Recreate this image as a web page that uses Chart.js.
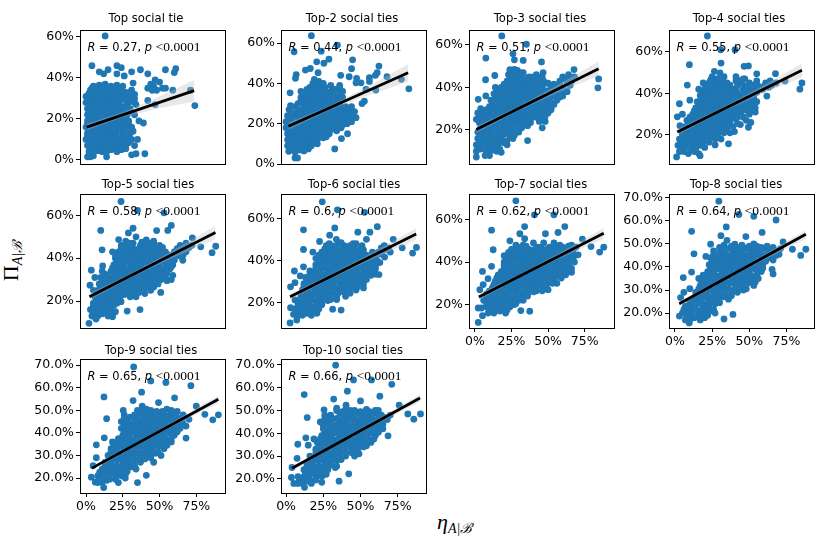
<!DOCTYPE html>
<html>
<head>
<meta charset="utf-8">
<script src="https://cdn.jsdelivr.net/npm/chart.js@4"></script>
<style>
  html, body { margin: 0; padding: 0; background: #fff; }
  #page { position: relative; width: 822px; height: 544px; overflow: hidden; }
  #page canvas { position: absolute; }
  .axis-name { position: absolute; font-family: "Liberation Serif", serif; font-size: 22px; color: #000; white-space: nowrap; }
  .axis-name sub { font-size: 14px; font-style: italic; vertical-align: -4px; }
</style>
</head>
<body>
<div id="page">
  <div class="axis-name" style="left:437px;top:509px"><i>η</i><sub>A|ℬ</sub></div>
  <div class="axis-name" style="left:12px;top:261px;transform:translate(-50%,-50%) rotate(-90deg)">Π<sub>A|ℬ</sub></div>
</div>
<script>
var titles = ['Top social tie','Top-2 social ties','Top-3 social ties','Top-4 social ties','Top-5 social ties',
  'Top-6 social ties','Top-7 social ties','Top-8 social ties','Top-9 social ties','Top-10 social ties'];
var rValues = ['0.27','0.44','0.51','0.55','0.58','0.6','0.62','0.64','0.65','0.66'];

var yTicks1 = [0,20,40,60];
var yTicks2 = [0,20,40,60];
var yTicks3 = [20,40,60];
var yTicks8 = [20,30,40,50,60,70];
var xTicks = [0,25,50,75];

var pts1 = [[13,60.5],[4,46],[9,43],[12,42],[15,44],[21,46],[24,45],[21,42],[26,41],[31,43],[37,44],[42,42],[54,44],[61,44.5],[60,42.6],[32,37.5],[30,33],[33,32],[47,39],[44,37],[50,38],[46,36],[42,35],[52,35],[48,34],[54,35],[45,34],[59,34],[71,34],[74,26.5],[47,27],[42,29],[34,27],[36,19],[39,18],[32,14],[35,10],[33,7],[31,2.5],[34,3],[40,3],[26,7],
[1,1.5],[3,1.5],[5,2],[14,1.5],[2,4],[5,4],[8,4.5],[11,4],[14,4],[17,5],[21,4],[24,5],
[1,7],[4,7],[8,7.5],[12,7],[16,7],[20,8],[24,7],[28,8],[31,10],
[0,10],[3,10],[7,10.5],[11,10],[15,10],[19,11],[23,10],[27,10],
[1,13],[5,13],[9,13.5],[13,13],[17,13],[21,14],[25,13],[30,13],
[0,16],[3,16],[7,16],[11,16.5],[15,16],[19,16],[23,17],[27,16],[31,16],
[1,19],[5,19],[9,19.5],[13,19],[17,19],[21,20],[25,19],[29,19],
[1,22],[4,22],[8,22.5],[12,22],[16,22],[20,23],[24,22],[28,22],[33,22],
[1,25],[5,25],[9,25.5],[13,25],[17,25],[21,26],[25,25],[30,25],
[0,28],[3,28],[7,28],[11,28.5],[15,28],[19,28],[23,29],[29,28],[33,28],
[0,31],[4,31],[8,31.5],[12,31],[16,31],[20,32],[24,31],[28,31],[33,30],
[3,34],[7,34],[11,34.5],[15,34],[19,34],[23,35],[27,33],[31,34],
[5,36],[9,36.5],[13,37],[17,36],[21,36.5],[25,36],
[3,5.5],[6,6],[10,5.5],[13,5.5],[17,6],[20,5.5],[23,6],[27,5.5],
[2,8.5],[6,9],[10,8.5],[14,8.5],[18,9],[22,8.5],[26,9],[29,8.5],
[1,11.5],[5,12],[9,11.5],[13,11.5],[17,12],[21,11.5],[25,11.5],[29,11.5],
[3,14.5],[7,14.5],[11,15],[15,14.5],[19,14.5],[23,15],[27,14.5],
[1,17.5],[5,17.5],[9,18],[13,17.5],[17,17.5],[21,18],[25,17.5],[29,17.5],
[3,20.5],[7,20.5],[11,21],[15,20.5],[19,20.5],[23,21],[27,20.5],
[2,23.5],[6,24],[10,23.5],[14,23.5],[18,24],[22,23.5],[26,23.5],[30,23.5],
[3,26.5],[7,27],[11,26.5],[15,26.5],[19,27],[23,26.5],[27,26.5],
[1,29.5],[5,30],[9,29.5],[13,29.5],[17,30],[21,29.5],[26,29.5],[31,29.5],
[2,32.5],[6,33],[10,32.5],[14,32.5],[18,33],[22,32.5],[26,32.5],[30,32.5],
[4,35],[8,35.5],[12,35],[16,35],[20,35.5],[24,35]];

var pts2 = [[17,63.7],[34.5,59],[5.4,55.7],[23.6,56],[20.6,50.7],[25.4,50],[28.8,52],[44.7,51.7],[44,47.3],[13,46.6],[16.3,47.4],[6.8,44.4],[6.3,42.5],[21.5,45.3],[36.7,44],[42.4,43.3],[47.4,42.5],[62.4,48.6],[61.2,45.3],[56,42.8],[67.8,43.3],[77.5,42],[82.5,37.3],[60.3,36.7],[52.6,31.2],[51,30],[53.7,37],[47,40.3],[50.3,40.3],[32.7,7.5],[37.2,12.6],[41.3,15],[6,3],[7.7,3],[1.8,6.3],[15,7.5],[2.7,35.3],[60,44],[56,41],
[3,7],[6,6],[9,7],[12,6.5],
[1,9],[5,10],[9,9],[13,10],[17,9],[21,10],
[1,12],[5,12.5],[9,12],[13,13],[17,12],[21,12],[25,13],
[1,15],[5,15],[9,15.5],[13,15],[17,15],[21,16],[25,15],[29,15],
[0,18],[4,18],[8,18.5],[12,18],[16,18],[20,18],[24,19],[28,18],[32,18],[37,18],
[0,21],[4,21],[10,21],[14,21.5],[18,21],[22,21],[26,22],[30,21],[34,21],[38,21],[44,21],
[1,24],[6,24],[11,24],[15,24.5],[19,24],[23,24],[27,25],[31,24],[35,24],[39,24],[43,24],[47,23],
[2,27],[10,27],[14,27],[18,27.5],[22,27],[26,27],[30,28],[34,27],[38,27],[42,27],[46,26],
[3,29],[8,30],[12,30],[16,30.5],[20,30],[24,30],[28,31],[32,30],[36,30],
[10,33],[14,33],[18,33.5],[22,33],[26,33],[30,34],[34,33],[38,33],
[10,36],[14,35],[18,36],[22,36.5],[26,36],[30,36],[34,37],[38,36],
[16,38],[20,39],[24,38],[30,39],[36,39],
[19,42],[22,41],[25,40],
[4,7.5],[8,8],[11,7.5],
[3,10.5],[7,11],[11,10.5],[15,11],[19,10.5],
[3,13.5],[7,14],[11,13.5],[15,13.5],[19,14],[23,13.5],[27,13.5],
[2,16.5],[6,17],[10,16.5],[14,16.5],[18,17],[22,16.5],[26,16.5],[30,17],[34,16.5],
[2,19.5],[6,20],[10,19.5],[14,19.5],[18,20],[22,19.5],[26,19.5],[30,20],[34,19.5],[38,19.5],[41,20],
[3,22.5],[8,23],[12,22.5],[16,22.5],[20,23],[24,22.5],[28,22.5],[32,23],[36,22.5],[40,22.5],[45,23],
[4,25.5],[8,26],[13,25.5],[17,25.5],[21,26],[25,25.5],[29,25.5],[33,26],[37,25.5],[41,25.5],[45,25],
[6,28.5],[12,29],[16,28.5],[20,28.5],[24,29],[28,28.5],[32,28.5],[36,29],[40,28.5],[44,28.5],
[10,31.5],[14,32],[18,31.5],[22,31.5],[26,32],[30,31.5],[34,31.5],[37,32],
[12,34.5],[16,35],[20,34.5],[24,34.5],[28,35],[32,34.5],[36,34.5],
[14,37],[18,37.5],[22,37],[26,38],[32,37],[36,38],
[18,40],[22,39.5]];

var pts3 = [[18.4,64.2],[35.2,60.3],[26,55.8],[7.5,53.8],[27,53],[33,52.7],[45.5,52],[13.6,45.6],[7.3,43.6],[24,48.4],[67.7,48.4],[84.5,44],[84,39.8],[46.6,47],[2.3,34.4],[7.5,36],[46,21],[36,15],[1,7.3],[56,34],[60,36],[52,30],[48,24],
[7,8],[10,8],[18,9.5],
[1,10],[4,11],[8,10],[12,10.5],[15,10],[17,11],
[1,13],[4,13],[8,14],[12,13],[16,13],[20,14],[22,13],
[2,16],[6,16],[10,17],[14,16],[18,16],[22,15],[26,16],
[2,19],[6,19],[10,19],[14,20],[18,19],[22,19],[26,20],[30,19],
[4,22],[8,22],[12,22],[16,23],[20,22],[24,22],[28,23],[32,22],[36,22],
[1,25],[5,25],[9,25],[13,26],[17,25],[21,25],[25,26],[29,25],[33,25],[37,25],[41,26],[46,25],
[2,28],[6,28],[10,28],[14,29],[18,28],[22,28],[26,29],[30,28],[34,28],[38,28],[42,29],[46,28],[50,28],
[4,30],[10,31],[14,31],[18,32],[22,31],[26,31],[30,32],[34,31],[38,31],[42,32],[46,31],[50,31],[54,32],
[11,34],[15,34],[19,34],[23,35],[27,34],[31,34],[35,35],[39,34],[43,34],[47,35],[51,34],
[13,37],[17,37],[21,37],[25,38],[29,37],[33,37],[37,38],[41,37],[45,37],[52,37],[56,38],[60,37],[63,38],
[14,40],[18,40],[22,40],[26,41],[30,40],[34,40],[38,41],[42,40],[46,40],[52,41],[56,40],[60,40],[65,41],
[22,43],[26,43],[30,44],[34,43],[38,43],[42,44],[47,43],[50,42],[58,43],[62,44],[66,43],
[23,46],[27,46],[31,47],[37,45],[42,46],[46,45],[60,45],[64,46],[68,45],
[24,48],[27,48.5],[29,48],[33,47],
[2,11.5],[6,12],[10,11.5],[14,11.5],
[3,14.5],[6,15],[10,14.5],[14,14.5],[18,15],[21,14.5],
[4,17.5],[8,18],[12,17.5],[16,17.5],[20,18],[24,17.5],[27,17.5],
[4,20.5],[8,21],[12,20.5],[16,20.5],[20,21],[24,20.5],[28,20.5],[32,21],
[3,23.5],[6,24],[10,23.5],[14,23.5],[18,24],[22,23.5],[26,23.5],[30,24],[34,23.5],[38,23.5],[44,24],
[3,26.5],[7,27],[11,26.5],[15,26.5],[19,27],[23,26.5],[27,26.5],[31,27],[35,26.5],[39,26.5],[43,27],[48,26.5],
[8,29.5],[12,30],[16,29.5],[20,29.5],[24,30],[28,29.5],[32,29.5],[36,30],[40,29.5],[44,29.5],[48,30],[52,29.5],
[12,32.5],[16,33],[20,32.5],[24,32.5],[28,33],[32,32.5],[36,32.5],[40,33],[44,32.5],[48,32.5],[52,33],
[14,35.5],[18,36],[22,35.5],[26,35.5],[30,36],[34,35.5],[38,35.5],[42,36],[46,35.5],[50,35.5],[54,36],[58,35.5],
[15,38.5],[19,39],[23,38.5],[27,38.5],[31,39],[35,38.5],[39,38.5],[43,39],[47,38.5],[50,38.5],[54,39],[58,38.5],[62,38.5],
[20,41.5],[24,42],[28,41.5],[32,41.5],[36,42],[40,41.5],[44,41.5],[48,42],[54,41.5],[58,41.5],[63,42],
[24,44.5],[28,45],[32,44.5],[36,44.5],[40,45],[44,44.5],[60,44],[64,44.5]];

var pts4 = [[21.8,67.6],[30.8,61],[40.4,61],[9.7,53.8],[31,54.6],[46.5,53],[49.4,53.2],[26.5,50.6],[30.3,49.8],[55,49.4],[67.6,49.5],[74,45.9],[85.4,45],[84,42],[61.8,38.7],[8.3,44],[3,35],[10,36.7],[1.6,28.7],[3.4,24.4],[1.1,9.4],[16.9,10],[27,15.2],[36,15.7],[49.4,23.7],[40,21.6],[64,46],[59,42],
[3,12],[6,12],[9,11],[13,12],[16,11],
[2,15],[5,15],[9,16],[13,15],[17,15],[20,14],
[3,18],[7,18],[11,19],[15,18],[19,18],[23,19],[27,18],[31,18],
[5,21],[9,21],[13,22],[17,21],[21,21],[25,22],[29,21],[33,21],[37,21],
[7,24],[11,24],[15,25],[19,24],[23,24],[27,25],[31,24],[35,24],[39,24],[44,25],
[8,27],[12,27],[16,28],[20,27],[24,27],[28,28],[32,27],[36,27],[40,28],[48,27],[51,26],
[5,30],[12,30],[16,30],[20,31],[24,30],[28,30],[32,31],[36,30],[40,30],[44,31],[50,30],[54,31],
[14,33],[18,33],[22,34],[26,33],[30,33],[34,34],[38,33],[42,33],[46,34],[50,33],[54,33],
[15,36],[19,36],[23,37],[27,36],[31,36],[35,37],[39,36],[43,36],[47,37],[51,36],[55,36],
[17,39],[21,39],[25,40],[29,39],[33,39],[37,40],[41,39],[45,39],[49,40],[53,39],
[16,42],[20,42],[24,43],[28,42],[32,42],[36,43],[40,42],[46,42],[50,43],[54,42],[58,42],[63,43],
[19,45],[23,45],[27,46],[31,45],[35,45],[41,46],[45,45],[50,45],[55,46],[61,45],[65,44],[68,45],
[25,48],[29,47],[33,48],[41,48],[47,47],
[4,13.5],[7,14],[11,13.5],[14,13.5],
[4,16.5],[7,17],[11,16.5],[15,16.5],[19,17],[23,16.5],
[5,19.5],[9,20],[13,19.5],[17,19.5],[21,20],[25,19.5],[29,19.5],
[7,22.5],[11,23],[15,22.5],[19,22.5],[23,23],[27,22.5],[31,22.5],[35,23],
[9,25.5],[13,26],[17,25.5],[21,25.5],[25,26],[29,25.5],[33,25.5],[37,26],[42,25.5],
[10,28.5],[14,29],[18,28.5],[22,28.5],[26,29],[30,28.5],[34,28.5],[38,29],[42,28.5],[46,28.5],
[13,31.5],[17,32],[21,31.5],[25,31.5],[29,32],[33,31.5],[37,31.5],[41,32],[45,31.5],[49,31.5],[53,32],
[16,34.5],[20,35],[24,34.5],[28,34.5],[32,35],[36,34.5],[40,34.5],[44,35],[48,34.5],[52,34.5],
[18,37.5],[22,38],[26,37.5],[30,37.5],[34,38],[38,37.5],[42,37.5],[46,38],[50,37.5],[53,37.5],
[18,40.5],[22,41],[26,40.5],[30,40.5],[34,41],[38,40.5],[42,40.5],[47,41],[51,40.5],[55,40.5],
[21,43.5],[25,44],[29,43.5],[33,43.5],[37,44],[42,43.5],[48,43.5],[52,44],[56,43.5],[60,43.5],[65,44],
[24,46.5],[28,47],[32,46.5],[42,46.5],[46,47]];

var pts5 = [[23.8,66.5],[35,62.3],[53,61.2],[10,53],[32,54],[28.8,51.8],[48,52.9],[58,55.3],[55.6,53],[22.2,48.7],[34,50],[72.3,49.5],[10.9,43.9],[78,45.3],[88.2,45.6],[85.7,42.6],[11.3,36.4],[3.6,34.4],[2.7,27.4],[5,25],[59,32],[65.8,39],[50.8,24],[28,15.3],[36.7,16],[2,9.6],[23.8,19.7],[18,12.7],[6.8,11.6],
[4,13],[8,13],[11,14],[15,13],[18,14],
[3,16],[6,16],[9,17],[13,16],[17,16],[20,15],
[5,19],[9,19],[13,20],[17,19],[21,19],
[6,22],[10,22],[14,23],[18,22],[22,22],[26,23],[30,22],[34,22],
[8,25],[12,25],[16,26],[20,25],[24,25],[28,26],[32,25],[36,25],[40,26],[44,25],
[9,28],[13,28],[17,29],[21,28],[25,28],[29,29],[33,28],[37,28],[41,29],[45,28],[49,28],
[6,31],[10,31],[14,32],[18,31],[22,31],[26,32],[30,31],[34,31],[38,32],[42,31],[46,31],[50,32],[54,31],[58,30],
[11,34],[17,34],[21,35],[25,34],[29,34],[33,35],[37,34],[41,34],[45,35],[49,34],[53,34],[57,35],
[19,37],[23,37],[27,38],[31,37],[35,37],[39,38],[43,37],[47,37],[51,38],[55,37],[59,37],
[20,40],[24,40],[28,41],[32,40],[36,40],[40,41],[44,40],[48,40],[52,41],[56,40],[60,40],[64,41],
[18,43],[22,43],[26,44],[30,43],[34,43],[38,44],[42,43],[46,43],[50,44],[54,43],[60,43],[64,44],[68,43],
[24,46],[28,46],[32,47],[37,46],[42,46],[46,47],[50,46],[64,46],[68,47],[72,46],
[27,48],[41,48.5],[46,48],
[5,14.5],[9,15],[13,14.5],[16,14.5],
[5,17.5],[8,18],[11,17.5],[15,17.5],[19,18],
[7,20.5],[11,21],[15,20.5],[19,20.5],[23,21],
[8,23.5],[12,24],[16,23.5],[20,23.5],[24,24],[28,23.5],[32,23.5],[36,24],[40,23.5],
[10,26.5],[14,27],[18,26.5],[22,26.5],[26,27],[30,26.5],[34,26.5],[38,27],[42,26.5],[46,26.5],
[11,29.5],[15,30],[19,29.5],[23,29.5],[27,30],[31,29.5],[35,29.5],[39,30],[43,29.5],[47,29.5],[51,30],[55,29.5],
[13,32.5],[19,33],[23,32.5],[27,32.5],[31,33],[35,32.5],[39,32.5],[43,33],[47,32.5],[51,32.5],[55,33],
[18,35.5],[22,36],[26,35.5],[30,35.5],[34,36],[38,35.5],[42,35.5],[46,36],[50,35.5],[54,35.5],[58,36],
[21,38.5],[25,39],[29,38.5],[33,38.5],[37,39],[41,38.5],[45,38.5],[49,39],[53,38.5],[57,38.5],[60,39],
[20,41.5],[24,42],[28,41.5],[32,41.5],[36,42],[40,41.5],[44,41.5],[48,42],[52,41.5],[56,41.5],[62,42],[66,41.5],
[24,44.5],[28,45],[32,44.5],[36,44.5],[40,45],[44,44.5],[48,44.5],[52,45],[62,44.5],[66,44.5],[70,45],
[30,47],[38,47.5],[44,47]];

var pts6 = [[24.3,67.8],[34.5,64],[52.7,62.8],[11.7,54.5],[32.7,55.4],[29.3,52],[48.2,53.4],[61.3,56],[56.3,53.4],[22.5,49],[33.8,50],[54,50],[72,50],[78,46],[87.6,46.2],[85,43.5],[11.7,45.2],[11.7,37],[5.6,35],[3,27.5],[6,29.5],[9.5,32.7],[66.2,41.6],[52,27],[62.4,33.3],[31.3,16.9],[37,16.5],[2.7,10.4],[7.2,11.8],[5,14.5],[3,17.6],[6,21.3],[20.7,15],
[8,14],[11,14],[14,15],[17,14],
[6,17],[10,17],[14,18],[18,17],[22,17],
[8,20],[12,20],[16,21],[20,20],[24,20],[28,21],
[10,23],[14,23],[18,24],[22,23],[26,23],[30,24],[34,23],[40,23],
[11,26],[15,26],[19,27],[23,26],[27,26],[31,27],[35,26],[39,26],[43,27],[47,26],
[12,29],[16,29],[20,30],[24,29],[28,29],[32,30],[36,29],[40,29],[44,30],[48,29],[52,29],
[13,32],[17,32],[21,33],[25,32],[29,32],[33,33],[37,32],[41,32],[45,33],[49,32],[53,32],[57,33],
[16,35],[20,35],[24,36],[28,35],[32,35],[36,36],[40,35],[44,35],[48,36],[52,35],[56,35],[60,36],
[20,38],[24,38],[28,39],[32,38],[36,38],[40,39],[44,38],[48,38],[52,39],[56,38],[60,38],[63,39],
[20,41],[24,41],[28,42],[32,41],[36,41],[40,42],[44,41],[48,41],[52,42],[56,41],[60,41],
[18,44],[24,44],[28,45],[32,44],[36,44],[40,45],[44,44],[48,44],[52,45],[58,44],[62,44],[66,45],[70,44],
[27,47],[31,47],[35,48],[39,47],[43,47],[47,48],[51,47],[66,47],[69,46],
[7,15.5],[10,16],[13,15.5],[16,15.5],[19,16],
[8,18.5],[12,19],[16,18.5],[20,18.5],[24,19],
[10,21.5],[14,22],[18,21.5],[22,21.5],[26,22],[30,21.5],[34,21.5],
[11,24.5],[15,25],[19,24.5],[23,24.5],[27,25],[31,24.5],[35,24.5],[39,25],[43,24.5],
[12,27.5],[16,28],[20,27.5],[24,27.5],[28,28],[32,27.5],[36,27.5],[40,28],[44,27.5],[48,27.5],
[14,30.5],[18,31],[22,30.5],[26,30.5],[30,31],[34,30.5],[38,30.5],[42,31],[46,30.5],[50,30.5],[54,31],
[16,33.5],[20,34],[24,33.5],[28,33.5],[32,34],[36,33.5],[40,33.5],[44,34],[48,33.5],[52,33.5],[56,34],[60,33.5],
[20,36.5],[24,37],[28,36.5],[32,36.5],[36,37],[40,36.5],[44,36.5],[48,37],[52,36.5],[56,36.5],[60,37],
[22,39.5],[26,40],[30,39.5],[34,39.5],[38,40],[42,39.5],[46,39.5],[50,40],[54,39.5],[58,39.5],[61,40],
[22,42.5],[26,43],[30,42.5],[34,42.5],[38,43],[42,42.5],[46,42.5],[50,43],[54,42.5],[60,42.5],[64,43],
[26,45.5],[30,46],[34,45.5],[38,45.5],[42,46],[46,45.5],[50,45.5],[64,46],[68,45.5],
[29,48],[37,48.5],[45,48]];

var pts7 = [[28,68.8],[40.7,62.2],[54,62.2],[11.4,55],[34,56.7],[30.7,53.3],[61.4,56.7],[56.8,53.9],[48.2,53.3],[12.5,45.8],[23.9,50],[34,51],[73.4,50.8],[79.3,47.3],[88,47],[85.2,44.7],[5.2,35.6],[11.4,38],[66,35.2],[70.5,43.4],[31.4,17.2],[37.5,16.9],[2.3,11.6],[5.2,14.8],[2.3,18.4],[4.5,18.4],[3.4,27],[5.7,29.4],[9,32.2],
[9,16],[13,16],[17,17],[21,16],
[8,19],[12,19],[16,20],[20,19],[24,19],[27,20],
[6,22],[10,22],[14,23],[18,22],[22,22],[26,23],[30,22],[33,22],
[8,25],[12,25],[16,26],[20,25],[24,25],[28,26],[32,25],[36,25],[40,26],
[12,28],[16,28],[20,29],[24,28],[28,28],[32,29],[36,28],[40,28],[44,29],[48,28],[50,27],
[14,31],[18,31],[22,32],[26,31],[30,31],[34,32],[38,31],[42,31],[46,32],[50,31],[54,31],[56,30],
[16,34],[20,34],[24,35],[28,34],[32,34],[36,35],[40,34],[44,34],[48,35],[52,34],[56,34],[60,35],[62,34],
[20,37],[24,37],[28,38],[32,37],[36,37],[40,38],[44,37],[48,37],[52,38],[56,37],[60,37],[64,38],[66,37],
[20,40],[24,40],[28,41],[32,40],[36,40],[40,41],[44,40],[48,40],[52,41],[56,40],[60,40],[64,41],[68,40],
[20,43],[24,43],[28,44],[32,43],[36,43],[40,44],[44,43],[48,43],[52,44],[56,43],[60,43],[64,44],[68,43],
[25,46],[29,46],[33,47],[37,46],[41,46],[45,47],[49,46],[53,46],[57,47],[61,46],[65,46],[69,47],
[28,48],[33,48],[40,49],[47,49],[54,49],[58,48],[66,48],
[10,17.5],[14,18],[18,17.5],[22,17.5],
[8,20.5],[12,21],[16,20.5],[20,20.5],[24,21],[28,20.5],
[8,23.5],[12,24],[16,23.5],[20,23.5],[24,24],[28,23.5],[32,23.5],[36,24],
[10,26.5],[14,27],[18,26.5],[22,26.5],[26,27],[30,26.5],[34,26.5],[38,27],[42,26.5],[46,26.5],
[13,29.5],[17,30],[21,29.5],[25,29.5],[29,30],[33,29.5],[37,29.5],[41,30],[45,29.5],[49,29.5],[53,30],
[15,32.5],[19,33],[23,32.5],[27,32.5],[31,33],[35,32.5],[39,32.5],[43,33],[47,32.5],[51,32.5],[55,33],[59,32.5],
[18,35.5],[22,36],[26,35.5],[30,35.5],[34,36],[38,35.5],[42,35.5],[46,36],[50,35.5],[54,35.5],[58,36],[62,35.5],
[20,38.5],[24,39],[28,38.5],[32,38.5],[36,39],[40,38.5],[44,38.5],[48,39],[52,38.5],[56,38.5],[60,39],[64,38.5],
[22,41.5],[26,42],[30,41.5],[34,41.5],[38,42],[42,41.5],[46,41.5],[50,42],[54,41.5],[58,41.5],[62,42],[66,41.5],
[23,44.5],[27,45],[31,44.5],[35,44.5],[39,45],[43,44.5],[47,44.5],[51,45],[55,44.5],[59,44.5],[63,45],[67,44.5],
[30,47],[35,47.5],[43,47],[51,47],[55,47.5],[60,47],[64,47.5],[68,47]];

var pts8 = [[29.5,68.6],[43,62.8],[53,62],[68,60.4],[11.2,55.5],[34.5,57.4],[58.6,55],[30.9,53.6],[47.7,53.2],[24,49.9],[35,51.6],[40.3,49.9],[72.7,50.9],[79,47.7],[88,47.7],[84.6,45],[12.8,45.7],[20.8,44.6],[11.2,37.8],[5.6,35.4],[66,37],[65.3,39],[3.8,26.7],[6,29],[10,30.6],[33,17.4],[39,19.4],[3,18.7],[9.6,15.7],[15.7,25.8],
[7,17],[10,17],[13,18],[17,17],[20,18],
[5,20],[8,20],[12,21],[16,20],[20,20],[24,21],[27,20],
[7,23],[11,23],[15,24],[19,23],[23,23],[27,24],
[12,26],[16,26],[20,27],[24,26],[28,26],[32,27],[36,26],
[14,29],[18,29],[22,30],[26,29],[30,29],[34,30],[38,29],[42,29],[46,30],
[17,32],[21,32],[25,33],[29,32],[33,32],[37,33],[41,32],[45,32],[49,33],[53,32],
[16,35],[20,35],[24,36],[28,35],[32,35],[36,36],[40,35],[44,35],[48,36],[52,35],[56,35],
[22,38],[26,38],[30,39],[34,38],[38,38],[42,39],[46,38],[50,38],[54,39],[58,38],
[23,41],[27,41],[31,42],[35,41],[39,41],[43,42],[47,41],[51,41],[55,42],[59,41],
[24,44],[28,44],[32,45],[36,44],[40,44],[44,45],[48,44],[52,44],[56,45],[60,44],[64,44],[68,45],
[26,47],[32,47],[36,48],[40,47],[44,47],[48,48],[52,47],[56,47],[60,48],[64,47],[68,47],[71,48],
[33,49.5],[45,49.5],[53,50],[55,49],
[8,18.5],[11,19],[15,18.5],[18,18.5],[22,19],
[6,21.5],[10,22],[14,21.5],[18,21.5],[22,22],[26,21.5],
[10,24.5],[14,25],[18,24.5],[22,24.5],[26,25],[30,24.5],
[14,27.5],[18,28],[22,27.5],[26,27.5],[30,28],[34,27.5],[38,27.5],
[16,30.5],[20,31],[24,30.5],[28,30.5],[32,31],[36,30.5],[40,30.5],[44,31],[48,30.5],
[18,33.5],[22,34],[26,33.5],[30,33.5],[34,34],[38,33.5],[42,33.5],[46,34],[50,33.5],[54,33.5],
[19,36.5],[23,37],[27,36.5],[31,36.5],[35,37],[39,36.5],[43,36.5],[47,37],[51,36.5],[55,36.5],
[24,39.5],[28,40],[32,39.5],[36,39.5],[40,40],[44,39.5],[48,39.5],[52,40],[56,39.5],[59,39.5],
[25,42.5],[29,43],[33,42.5],[37,42.5],[41,43],[45,42.5],[49,42.5],[53,43],[57,42.5],[61,42.5],[66,43],
[26,45.5],[30,46],[34,45.5],[38,45.5],[42,46],[46,45.5],[50,45.5],[54,46],[58,45.5],[62,45.5],[66,46],[70,45.5],
[30,48.5],[38,49],[42,48.5],[46,48.5],[50,49],[54,48.5],[58,48.5],[62,49],[66,48.5]];

var pts9 = [[32.4,69.2],[44,63],[54.3,62.3],[71.3,60.9],[12.2,55.9],[37.8,58],[60.2,55.5],[32,54.3],[49.3,53.4],[25.3,49.9],[38.2,51.8],[75,51.8],[80.8,48.2],[90,48],[86.2,45.8],[14,46.3],[68,37.7],[12.4,37.8],[7,34.7],[7,29],[4.8,25.5],[35,18],[41,21.2],[3.6,20.4],[12,15.8],[6.3,18.2],[9.3,22.6],[26.7,20],
[8,18],[11,18],[14,19],[22,18],
[8,21],[12,21],[16,22],[20,21],[24,21],[27,22],
[11,24],[15,24],[19,25],[23,24],[27,24],[31,25],[34,24],
[13,27],[17,27],[21,28],[25,27],[29,27],[33,28],[37,27],[46,27],
[15,30],[19,30],[23,31],[27,30],[31,30],[35,31],[39,30],[43,30],[47,31],[51,30],
[17,33],[21,33],[25,34],[29,33],[33,33],[37,34],[41,33],[45,33],[49,34],[53,33],
[18,36],[22,36],[26,37],[30,36],[34,36],[38,37],[42,36],[46,36],[50,37],[54,36],[58,36],
[25,39],[29,39],[33,40],[37,39],[41,39],[45,40],[49,39],[53,39],[57,40],[60,39],
[24,42],[28,42],[32,43],[36,42],[40,42],[44,43],[48,42],[52,42],[56,43],[60,42],[64,42],[68,43],
[24,45],[28,45],[33,46],[37,45],[41,45],[45,46],[49,45],[53,45],[57,46],[61,45],[65,45],[70,46],
[26,48],[33,48],[37,49],[41,48],[45,48],[49,49],[53,48],[57,48],[61,49],[66,48],
[35,50],[41,50.5],[55,50.5],
[9,19.5],[12,20],[16,19.5],[20,19.5],
[12,22.5],[16,23],[20,22.5],[24,22.5],[28,23],
[13,25.5],[17,26],[21,25.5],[25,25.5],[29,26],[33,25.5],
[16,28.5],[20,29],[24,28.5],[28,28.5],[32,29],[36,28.5],[40,28.5],[44,29],
[17,31.5],[21,32],[25,31.5],[29,31.5],[33,32],[37,31.5],[41,31.5],[45,32],[49,31.5],
[19,34.5],[23,35],[27,34.5],[31,34.5],[35,35],[39,34.5],[43,34.5],[47,35],[51,34.5],[55,34.5],
[22,37.5],[26,38],[30,37.5],[34,37.5],[38,38],[42,37.5],[46,37.5],[50,38],[54,37.5],[58,37.5],
[26,40.5],[30,41],[34,40.5],[38,40.5],[42,41],[46,40.5],[50,40.5],[54,41],[58,40.5],[62,40.5],
[26,43.5],[30,44],[34,43.5],[38,43.5],[42,44],[46,43.5],[50,43.5],[54,44],[58,43.5],[62,43.5],[66,44],
[26,46.5],[30,47],[35,46.5],[39,46.5],[43,47],[47,46.5],[51,46.5],[55,47],[59,46.5],[63,46.5],[67,47],
[38,49.5],[44,50],[48,49.5],[52,49.5],[58,50],[62,49.5]];

var pts10 = [[33.3,69.9],[45.3,63.4],[57.4,63.4],[71,61.5],[12.2,57],[41.2,58.5],[63,56.3],[32,55],[50,54.2],[40.3,52.3],[25.5,50.3],[34,51],[76,52.3],[81.8,48.5],[90.3,48.5],[85.8,46.2],[14.2,46.9],[68.5,38.9],[13.3,38],[7.9,35.2],[14.9,34.8],[18.7,37.5],[7.4,29],[4,25],[35.6,19],[42.1,22.2],[3.6,20.6],[12.4,16.3],[5.2,18],
[8,18],[11,18],[14,19],[17,18],[24,18.5],
[8,21],[12,21],[16,22],[20,21],[24,21],[27,22],
[12,24],[16,24],[20,25],[24,24],[28,24],[33,25],
[14,27],[18,27],[22,28],[26,27],[30,27],[34,28],
[16,30],[20,30],[24,31],[28,30],[32,30],[36,31],[40,30],[46,30],[49,31],
[20,33],[24,33],[28,34],[32,33],[36,33],[40,34],[44,33],[48,33],[52,34],
[21,36],[25,36],[29,37],[33,36],[37,36],[41,37],[45,36],[49,36],[53,37],[57,36],
[24,39],[28,39],[32,40],[36,39],[40,39],[44,40],[48,39],[52,39],[56,40],[60,39],
[25,42],[29,42],[33,43],[37,42],[41,42],[45,43],[49,42],[53,42],[57,43],[61,42],[65,42],
[23,45],[27,45],[31,46],[36,45],[40,45],[44,46],[48,45],[52,45],[56,46],[60,45],[64,45],[68,46],
[26,48],[30,48],[36,49],[40,48],[44,48],[48,49],[52,48],[56,48],[60,49],[64,48],[70,48],
[34,50],[40,50.5],[46,50],[54,50.5],[60,50],
[9,19.5],[13,20],[16,19.5],[20,19.5],
[13,22.5],[17,23],[21,22.5],[25,22.5],
[14,25.5],[18,26],[22,25.5],[26,25.5],[30,26],[34,25.5],
[17,28.5],[21,29],[25,28.5],[29,28.5],[33,29],[37,28.5],
[20,31.5],[24,32],[28,31.5],[32,31.5],[36,32],[40,31.5],[44,31.5],[48,32],
[22,34.5],[26,35],[30,34.5],[34,34.5],[38,35],[42,34.5],[46,34.5],[50,35],[54,34.5],
[23,37.5],[27,38],[31,37.5],[35,37.5],[39,38],[43,37.5],[47,37.5],[51,38],[55,37.5],[59,37.5],
[26,40.5],[30,41],[34,40.5],[38,40.5],[42,41],[46,40.5],[50,40.5],[54,41],[58,40.5],[62,40.5],
[25,43.5],[29,44],[33,43.5],[37,43.5],[41,44],[45,43.5],[49,43.5],[53,44],[57,43.5],[61,43.5],[65,44],
[26,46.5],[30,47],[34,46.5],[38,46.5],[42,47],[46,46.5],[50,46.5],[54,47],[58,46.5],[62,46.5],[66,47],
[38,49.5],[43,50],[50,49.5],[56,49.5],[62,50]];

// fit line: x and y at each end, band: same x positions as bandX
var lineX1 = [0.5,73.5],  lineY1 = [16,33.8];
var lineX2 = [1.6,82],    lineY2 = [18.7,45.3];
var lineX3 = [1,84.5],    lineY3 = [20.2,48.8];
var lineX4 = [1.6,85.4],  lineY4 = [21.4,51.1];
var lineX5 = [2.3,88],    lineY5 = [22,52];
var lineX6 = [2.7,87.4],  lineY6 = [22.8,52.6];
var lineX7 = [2.7,88],    lineY7 = [23.6,53.6];
var lineX8 = [2.9,88],    lineY8 = [24,54.2];
var lineX9 = [4,90],      lineY9 = [24.4,54.9];
var lineX10 = [4,90],     lineY10 = [24.7,55.5];

var bandHi1 = [17.5,23.2,31,39],    bandLo1 = [14.5,20.8,25.2,28.5];
var bandHi2 = [20.5,29,38.5,49.5],  bandLo2 = [17,27,34,41];
var bandHi3 = [21.7,31,40.5,52.2],  bandLo3 = [18.7,29.2,37,45.5];
var bandHi4 = [22.8,32.5,42,54.4],  bandLo4 = [20,30.6,38.6,47.8];
var bandHi5 = [23.5,32.6,42,55],    bandLo5 = [20.5,30.8,38.9,49];
var bandHi6 = [24.2,33.3,42.6,55.3],bandLo6 = [21.4,31.5,39.8,49.8];
var bandHi7 = [25,34,43.2,56],      bandLo7 = [22.2,32.4,40.8,51];
var bandHi8 = [25.2,34.3,43.5,56],  bandLo8 = [22.8,32.9,41.5,52.2];
var bandHi9 = [25.5,34.3,43.4,56.5],bandLo9 = [23.2,32.9,41.6,53];
var bandHi10 = [25.8,34.7,43.9,57], bandLo10 = [23.6,33.3,42.1,53.8];
var bandMid1 = [25,50], bandMid = [30,55];

// panel frames on the page and axis windows
var rowTop = [30,194,359];
var colLeft = [80,281,469,669];
var plotW = 145, plotH = 134;
var titleCenter = [146,352,540,739,148,354,541,736,151,353];
var titleBase = [22,188,354];
var xMin = [-4.1,-3.4,-4,-4], xMax = [94.5,94,95,93.5];
var yMin = [-2,0,4,6,7.4,8,9,13.5,13.4,13.8];
var yMax = [63.4,66.5,67,70.5,70,71.5,72,71.7,72.7,72.6];

var allPts = [pts1,pts2,pts3,pts4,pts5,pts6,pts7,pts8,pts9,pts10];
var allLineX = [lineX1,lineX2,lineX3,lineX4,lineX5,lineX6,lineX7,lineX8,lineX9,lineX10];
var allLineY = [lineY1,lineY2,lineY3,lineY4,lineY5,lineY6,lineY7,lineY8,lineY9,lineY10];
var allHi = [bandHi1,bandHi2,bandHi3,bandHi4,bandHi5,bandHi6,bandHi7,bandHi8,bandHi9,bandHi10];
var allLo = [bandLo1,bandLo2,bandLo3,bandLo4,bandLo5,bandLo6,bandLo7,bandLo8,bandLo9,bandLo10];
var allYTicks = [yTicks1,yTicks2,yTicks3,yTicks3,yTicks3,yTicks3,yTicks3,yTicks8,yTicks8,yTicks8];

var sansFont = '"DejaVu Sans"';
var leftSpace = 58, topSpace = 24, bottomSpace = 26, rightSpace = 6;

// frame round the plot, panel title and the R / p note on top of the points
var panelDecor = {
  id: 'panelDecor',
  afterDraw: function (chart, args, opts) {
    var c = chart.ctx, a = chart.chartArea;
    c.save();
    c.strokeStyle = '#000';
    c.lineWidth = 1;
    c.strokeRect(Math.round(a.left) + 0.5, Math.round(a.top) + 0.5, Math.round(a.width), Math.round(a.height));
    c.fillStyle = '#000';
    c.textBaseline = 'alphabetic';
    c.font = '11.6px ' + sansFont;
    c.textAlign = 'center';
    c.fillText(opts.title, opts.titleX, opts.titleY);
    c.textAlign = 'left';
    var x = a.left + 7.5, y = a.top + 21;
    var parts = [
      ['italic 11.4px ' + sansFont, 'R'],
      ['11.4px ' + sansFont, ' = ' + opts.r + ', '],
      ['italic 11.4px ' + sansFont, 'p'],
      ['11.4px ' + sansFont, ' '],
      ['13.5px "Liberation Serif"', '<0.0001']
    ];
    parts.forEach(function (p) {
      c.font = p[0];
      c.fillText(p[1], x, y);
      x += c.measureText(p[1]).width;
    });
    c.restore();
  }
};

function makePanel(i) {
  var row = Math.floor(i / 4), col = i % 4;
  var hasXTicks = i >= 6;
  var canvas = document.createElement('canvas');
  canvas.width = leftSpace + plotW + rightSpace;
  canvas.height = topSpace + plotH + bottomSpace;
  var canvasLeft = colLeft[col] - leftSpace, canvasTop = rowTop[row] - topSpace;
  canvas.style.left = canvasLeft + 'px';
  canvas.style.top = canvasTop + 'px';
  document.getElementById('page').appendChild(canvas);

  var lx = allLineX[i], ly = allLineY[i];
  var mid = i === 0 ? bandMid1 : bandMid;
  var bx = [lx[0], mid[0], mid[1], lx[1]];
  var toXY = function (xs, ys) { return xs.map(function (v, k) { return { x: v, y: ys[k] }; }); };

  new Chart(canvas, {
    data: {
      datasets: [
        { type: 'scatter', data: allPts[i].map(function (p) { return { x: p[0], y: p[1] }; }),
          backgroundColor: '#1f77b4', borderColor: '#1f77b4', pointRadius: 3.4, pointBorderWidth: 0, order: 3 },
        { type: 'line', data: toXY(bx, allHi[i]), borderWidth: 0, pointRadius: 0, fill: '+1',
          backgroundColor: 'rgba(190,190,190,0.35)', order: 2 },
        { type: 'line', data: toXY(bx, allLo[i]), borderWidth: 0, pointRadius: 0, fill: false, order: 2 },
        { type: 'line', data: toXY(lx, ly), borderColor: '#000', borderWidth: 2.8, pointRadius: 0, fill: false, order: 1 }
      ]
    },
    options: {
      responsive: false,
      animation: false,
      events: [],
      layout: { padding: { top: topSpace, right: rightSpace, left: 0, bottom: 0 } },
      plugins: {
        legend: { display: false },
        tooltip: { enabled: false },
        panelDecor: { r: rValues[i], title: titles[i], titleX: titleCenter[i] - canvasLeft, titleY: titleBase[row] - canvasTop }
      },
      scales: {
        x: {
          type: 'linear', min: xMin[col], max: xMax[col],
          afterFit: function (s) { s.height = bottomSpace; },
          afterBuildTicks: function (s) { s.ticks = hasXTicks ? xTicks.map(function (v) { return { value: v }; }) : []; },
          border: { display: false },
          grid: { drawOnChartArea: false, drawTicks: hasXTicks, tickLength: 4, color: '#000' },
          ticks: { display: hasXTicks, color: '#000', padding: 2, maxRotation: 0, autoSkip: false, font: { family: sansFont, size: 12.5 },
            callback: function (v) { return v + '%'; } }
        },
        y: {
          type: 'linear', min: yMin[i], max: yMax[i],
          afterFit: function (s) { s.width = leftSpace; },
          afterBuildTicks: function (s) { s.ticks = allYTicks[i].map(function (v) { return { value: v }; }); },
          border: { display: false },
          grid: { drawOnChartArea: false, tickLength: 4, color: '#000' },
          ticks: { color: '#000', padding: 2, autoSkip: false, font: { family: sansFont, size: 12.5 },
            callback: function (v) { return i >= 7 ? v.toFixed(1) + '%' : v + '%'; } }
        }
      }
    },
    plugins: [panelDecor]
  });
}

for (var i = 0; i < 10; i++) makePanel(i);
</script>
</body>
</html>
